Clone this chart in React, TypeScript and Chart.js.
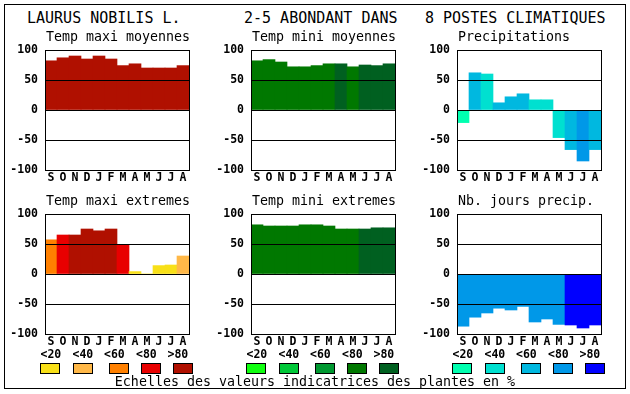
import React, { useEffect, useRef } from 'react';
import { Chart, registerables } from 'chart.js';

Chart.register(...registerables);

// ---- data ----
const months = ['S', 'O', 'N', 'D', 'J', 'F', 'M', 'A', 'M', 'J', 'J', 'A'];
const yTickValues = [-100, -50, 0, 50, 100];
const scaleLabels = ['<20', '<40', '<60', '<80', '>80'];
const headerTexts = ['LAURUS NOBILIS L.', '2-5 ABONDANT DANS', '8 POSTES CLIMATIQUES'];
const footerText = 'Echelles des valeurs indicatrices des plantes en %';

const redScale = ['#f8e018', '#ffb848', '#ff8000', '#e80000', '#b01000'];
const greenScale = ['#10ff10', '#00c838', '#009830', '#007800', '#006020'];
const blueScale = ['#00ffb0', '#00e0d0', '#00b8e0', '#0098e8', '#0000ff'];

const titles = [
  'Temp maxi moyennes',
  'Temp mini moyennes',
  'Precipitations',
  'Temp maxi extremes',
  'Temp mini extremes',
  'Nb. jours precip.',
];

const tempMaxiMoy = [82, 87, 90, 85, 90, 85, 74, 77, 70, 70, 70, 74];
const tempMaxiMoyClass = [4, 4, 4, 4, 4, 4, 4, 4, 4, 4, 4, 4];
const tempMiniMoy = [82, 84, 80, 72, 72, 74, 77, 77, 72, 75, 74, 77];
const tempMiniMoyClass = [3, 3, 3, 3, 3, 3, 3, 4, 3, 4, 4, 4];
const precip = [-21, 62, 60, 12, 22, 27, 17, 17, -46, -66, -85, -66];
const precipClass = [0, 2, 1, 2, 2, 2, 1, 1, 1, 2, 3, 2];
const tempMaxiExt = [57, 65, 65, 75, 72, 75, 49, 4, 0, 14, 15, 30];
const tempMaxiExtClass = [2, 3, 4, 4, 4, 4, 3, 0, 0, 0, 0, 1];
const tempMiniExt = [82, 80, 80, 80, 82, 82, 80, 75, 75, 75, 77, 77];
const tempMiniExtClass = [3, 3, 3, 3, 3, 3, 3, 3, 3, 4, 4, 4];
const joursPrecip = [-87, -72, -65, -57, -60, -54, -80, -75, -84, -85, -90, -85];
const joursPrecipClass = [3, 3, 3, 3, 3, 3, 3, 3, 3, 4, 4, 4];

// ---- layout ----
const FONT = '"DejaVu Sans Mono", monospace';
const colLefts = [45, 251, 457];
const rowTops = [50, 214];
const PLOT_W = 144;
const PLOT_H = 120;
const PAD_TOP = 35;
const AXIS_W = 45;
const AXIS_H = 20;
const PAD_RIGHT = 6;
const labelOffsets = [-4.5, 27.5, 59, 91, 122.5];
const swatchOffsets = [-5, 27.5, 63.5, 96, 128];
const columnScales = [redScale, greenScale, blueScale];

const panels = [
  { title: titles[0], values: tempMaxiMoy, classes: tempMaxiMoyClass, palette: redScale, col: 0, row: 0 },
  { title: titles[1], values: tempMiniMoy, classes: tempMiniMoyClass, palette: greenScale, col: 1, row: 0 },
  { title: titles[2], values: precip, classes: precipClass, palette: blueScale, col: 2, row: 0 },
  { title: titles[3], values: tempMaxiExt, classes: tempMaxiExtClass, palette: redScale, col: 0, row: 1 },
  { title: titles[4], values: tempMiniExt, classes: tempMiniExtClass, palette: greenScale, col: 1, row: 1 },
  { title: titles[5], values: joursPrecip, classes: joursPrecipClass, palette: blueScale, col: 2, row: 1 },
];

const framePlugin = {
  id: 'frame',
  afterDraw(chart: any, _args: any, opts: any) {
    const { ctx, chartArea: a } = chart;
    ctx.save();
    ctx.strokeStyle = '#000';
    ctx.lineWidth = 1;
    ctx.strokeRect(Math.round(a.left) + 0.5, Math.round(a.top) + 0.5, Math.round(a.right - a.left), Math.round(a.bottom - a.top));
    ctx.font = '13.3px ' + FONT;
    ctx.fillStyle = '#000';
    ctx.textBaseline = 'alphabetic';
    ctx.textAlign = 'left';
    ctx.fillText(opts.text || '', a.left + 1, a.top - 9);
    ctx.restore();
  },
};

function Panel({ p }: { p: any }) {
  const ref = useRef<HTMLCanvasElement>(null);
  const w = AXIS_W + PLOT_W + PAD_RIGHT;
  const h = PAD_TOP + PLOT_H + AXIS_H;
  useEffect(() => {
    const chart = new Chart(ref.current as HTMLCanvasElement, {
      type: 'bar',
      data: {
        labels: months,
        datasets: [
          {
            data: p.values,
            backgroundColor: p.classes.map((c: number) => p.palette[c]),
            borderWidth: 0,
            categoryPercentage: 1,
            barPercentage: 1,
          },
        ],
      },
      options: {
        responsive: false,
        animation: false,
        devicePixelRatio: 1,
        layout: { padding: { top: PAD_TOP, right: PAD_RIGHT, left: 0, bottom: 0 } },
        plugins: {
          legend: { display: false },
          tooltip: { enabled: false },
          title: { display: false },
          frame: { text: p.title },
        } as any,
        scales: {
          x: {
            grid: { display: false, drawTicks: false },
            border: { display: false },
            ticks: {
              color: '#000',
              font: { family: FONT, size: 11.5, weight: 'bold' },
              padding: 1,
              maxRotation: 0,
              autoSkip: false,
            },
            afterFit: (s: any) => { s.height = AXIS_H; },
          },
          y: {
            min: -100,
            max: 100,
            afterBuildTicks: (s: any) => { s.ticks = yTickValues.map((v) => ({ value: v })); },
            grid: {
              z: 1,
              drawTicks: false,
              lineWidth: 1,
              color: (c: any) => (c.tick && Math.abs(c.tick.value) !== 100 ? '#000' : 'rgba(0,0,0,0)'),
            },
            border: { display: false },
            ticks: {
              color: '#000',
              font: { family: FONT, size: 11.5, weight: 'bold' },
              padding: 7,
              callback: (v: any) => String(v),
            },
            afterFit: (s: any) => { s.width = AXIS_W; },
          },
        },
      } as any,
      plugins: [framePlugin as any],
    });
    return () => chart.destroy();
  }, []);
  return (
    <canvas
      ref={ref}
      width={w}
      height={h}
      style={{ position: 'absolute', left: colLefts[p.col] - AXIS_W, top: rowTops[p.row] - PAD_TOP, width: w, height: h }}
    />
  );
}

export default function App() {
  const headerLefts = [27, 244, 425];
  return (
    <div style={{ position: 'absolute', left: 0, top: 0, width: 630, height: 394, background: '#fff', fontFamily: FONT, color: '#000' }}>
      <div style={{ position: 'absolute', left: 4, top: 4, width: 622, height: 385, border: '1px solid #000', boxSizing: 'border-box' }} />
      {headerTexts.map((t, i) => (
        <div key={t} style={{ position: 'absolute', left: headerLefts[i], top: 10, fontSize: 15, lineHeight: '16px', whiteSpace: 'pre' }}>{t}</div>
      ))}
      {panels.map((p, i) => <Panel key={i} p={p} />)}
      {colLefts.map((cl, ci) => (
        <React.Fragment key={ci}>
          {scaleLabels.map((l, i) => (
            <div key={'l' + i} style={{ position: 'absolute', left: cl + labelOffsets[i], top: 348, fontSize: 11.5, fontWeight: 'bold', lineHeight: '13px', whiteSpace: 'pre' }}>{l}</div>
          ))}
          {columnScales[ci].map((c, i) => (
            <div key={'s' + i} style={{ position: 'absolute', left: cl + swatchOffsets[i], top: 363, width: 20, height: 11, background: c, border: '1px solid #000', boxSizing: 'border-box' }} />
          ))}
        </React.Fragment>
      ))}
      <div style={{ position: 'absolute', left: 0, width: 630, textAlign: 'center', top: 374, fontSize: 13.3, lineHeight: '16px', whiteSpace: 'pre' }}>{footerText}</div>
    </div>
  );
}
